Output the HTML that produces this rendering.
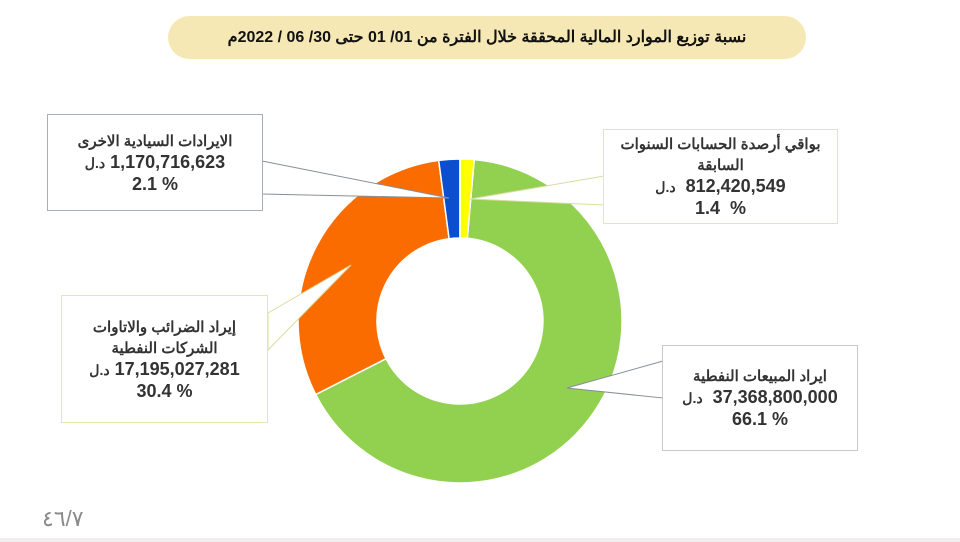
<!DOCTYPE html>
<html><head><meta charset="utf-8"><style>
body{margin:0;width:960px;height:542px;background:#fff;overflow:hidden;position:relative;font-family:"Liberation Sans","Noto Sans CJK SC",sans-serif}
.title{position:absolute;left:168px;top:16px;width:638px;height:43px;border-radius:22px;background:#f5e8b4;text-align:center;line-height:43px;font-size:16px;font-weight:bold;color:#111;direction:rtl}
.box{position:absolute;background:#fff;text-align:center;color:#333;font-weight:bold;font-size:15px;line-height:21px;box-sizing:border-box;display:flex;flex-direction:column;justify-content:center}
.n{font-size:18px;direction:ltr}
.u{font-size:14px;direction:rtl;unicode-bidi:isolate}
</style></head><body>
<div class="title">نسبة توزيع الموارد المالية المحققة خلال الفترة من 01/ 01 حتى 30/ 06 / 2022م</div>
<svg width="960" height="542" style="position:absolute;left:0;top:0">
<g stroke="#fff" stroke-width="1.5">
<path d="M474.2,159.6 A162,162 0 1 1 315.7,394.5 L386,358.7 A83,83 0 1 0 467.3,238.3 Z" fill="#92d050"/>
<path d="M315.7,394.5 A162,162 0 0 1 438.7,160.4 L449.1,238.7 A83,83 0 0 0 386,358.7 Z" fill="#fa6c00"/>
<path d="M438.7,160.4 A162,162 0 0 1 460,159 L460,238 A83,83 0 0 0 449.1,238.7 Z" fill="#0b4fcf"/>
<path d="M460,159 A162,162 0 0 1 474.2,159.6 L467.3,238.3 A83,83 0 0 0 460,238 Z" fill="#ffff00"/>
</g>
<g fill="#fff" stroke="#8a8f96" stroke-width="1">
<polygon points="262,161 449,198 262,194"/>
<polygon points="604,176 470,199 604,205" stroke="#d8dca0"/>
<polygon points="268,313 351,265 268,350" stroke="#d8dca0"/>
<polygon points="663,361 567,388 663,398"/>
</g>
</svg>
<div class="box" style="left:47px;top:114px;width:216px;height:97px;border:1.5px solid #a9afb6"><div>الايرادات السيادية الاخرى</div><div class="n"><span class="u">د.ل</span> 1,170,716,623</div><div class="n">2.1 %</div></div>
<div class="box" style="left:61px;top:295px;width:207px;height:128px;border:1.5px solid #e6e6b0"><div>إيراد الضرائب والاتاوات</div><div>الشركات النفطية</div><div class="n"><span class="u">د.ل</span> 17,195,027,281</div><div class="n">30.4 %</div></div>
<div class="box" style="left:603px;top:129px;width:235px;height:95px;border:1.5px solid #e6e6b0"><div>بواقي أرصدة الحسابات السنوات</div><div>السابقة</div><div class="n"><span class="u">د.ل</span>&nbsp; 812,420,549</div><div class="n">1.4 &nbsp;%</div></div>
<div class="box" style="left:662px;top:345px;width:196px;height:106px;border:1.5px solid #c6c9cc"><div>ايراد المبيعات النفطية</div><div class="n"><span class="u">د.ل</span>&nbsp; 37,368,800,000</div><div class="n">66.1 %</div></div>
<div style="position:absolute;left:42px;top:506px;font-size:22px;color:#8a8a8a;direction:ltr">٤٦/٧</div>
<div style="position:absolute;left:0;top:538px;width:960px;height:4px;background:#f1eef0"></div>
</body></html>
